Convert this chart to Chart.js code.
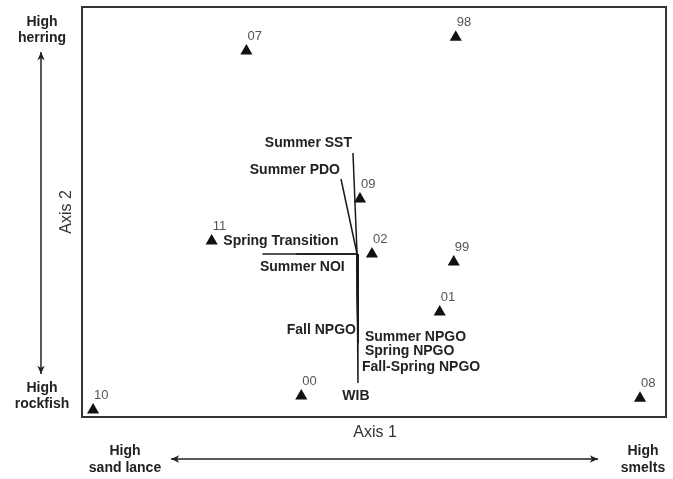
<!DOCTYPE html>
<html>
<head>
<meta charset="utf-8">
<script src="https://cdn.jsdelivr.net/npm/chart.js@4.4.1/dist/chart.umd.min.js"></script>
<style>
  html, body { margin: 0; padding: 0; background: #fff; }
  #wrap { width: 673px; height: 479px; }
</style>
</head>
<body>
<div id="wrap"><canvas id="chartNms"></canvas></div>
<script>
// NMS ordination: year scores
const years = ['07', '98', '09', '11', '02', '99', '01', '10', '00', '08'];
const axis1 = [-0.437, 0.280, -0.048, -0.556, -0.007, 0.273, 0.225, -0.962, -0.249, 0.911];
const axis2 = [0.785, 0.853, 0.063, -0.142, -0.205, -0.244, -0.488, -0.966, -0.898, -0.908];

// environmental vectors (joint plot), all from the same origin
const vecOrigin = [-0.058, -0.205];
const vecNames = ['Summer SST', 'Summer PDO', 'Spring Transition', 'Summer NOI',
    'Fall NPGO', 'Summer NPGO', 'Spring NPGO', 'Fall-Spring NPGO', 'WIB'];
const vecX = [-0.072, -0.113, -0.382, -0.266, -0.055, -0.055, -0.055, -0.055, -0.055];
const vecY = [0.288, 0.161, -0.205, -0.205, -0.639, -0.639, -0.639, -0.639, -0.834];

// label placement for each vector (pixels from the vector tip)
const vecLabelPos = {
    'Summer SST': { dx: -1, dy: -10, align: 'right' },
    'Summer PDO': { dx: -1, dy: -9, align: 'right' },
    'Spring Transition': { dx: 76, dy: -13, align: 'right' },
    'Summer NOI': { dx: 6, dy: 13, align: 'center' },
    'Fall NPGO': { dx: -2, dy: -13, align: 'right' },
    'Summer NPGO': { dx: 7, dy: -6, align: 'left' },
    'Spring NPGO': { dx: 7, dy: 8, align: 'left' },
    'Fall-Spring NPGO': { dx: 4, dy: 24, align: 'left' },
    'WIB': { dx: -2, dy: 13, align: 'center' }
};

const datasets = [];

vecNames.forEach((name, i) => {
    datasets.push({
        label: name,
        data: [{ x: vecOrigin[0], y: vecOrigin[1] }, { x: vecX[i], y: vecY[i] }],
        showLine: true,
        borderColor: '#1a1a1a',
        borderWidth: 1.5,
        pointRadius: 0,
        fill: false
    });
});

datasets.push({
    label: 'Years',
    data: years.map((y, i) => ({ x: axis1[i], y: axis2[i] })),
    pointStyle: 'triangle',
    pointRadius: 7,
    backgroundColor: '#111',
    borderColor: '#111',
    borderWidth: 0
});

const boldFont = 'bold 14px "Liberation Sans", Arial, sans-serif';

// double-headed arrow with small filled heads
const arrow = (ctx, x1, y1, x2, y2) => {
    const a = Math.atan2(y2 - y1, x2 - x1);
    const head = (x, y, ang) => {
        ctx.beginPath();
        ctx.moveTo(x, y);
        ctx.lineTo(x - 9 * Math.cos(ang - 0.42), y - 9 * Math.sin(ang - 0.42));
        ctx.lineTo(x - 6 * Math.cos(ang), y - 6 * Math.sin(ang));
        ctx.lineTo(x - 9 * Math.cos(ang + 0.42), y - 9 * Math.sin(ang + 0.42));
        ctx.closePath();
        ctx.fill();
    };
    ctx.beginPath();
    ctx.moveTo(x1, y1);
    ctx.lineTo(x2, y2);
    ctx.stroke();
    head(x2, y2, a);
    head(x1, y1, a + Math.PI);
};

const ordinationDecor = {
    id: 'ordinationDecor',
    afterDraw(chart) {
        const { ctx, chartArea: ca, scales } = chart;
        const sx = scales.x, sy = scales.y;
        ctx.save();

        // frame
        ctx.strokeStyle = '#333';
        ctx.lineWidth = 2;
        ctx.strokeRect(ca.left, ca.top, ca.right - ca.left, ca.bottom - ca.top);

        // year labels
        ctx.fillStyle = '#555';
        ctx.font = '13px "Liberation Sans Narrow", "Liberation Sans", Arial, sans-serif';
        ctx.textAlign = 'left';
        ctx.textBaseline = 'middle';
        years.forEach((y, i) => {
            ctx.fillText(y, sx.getPixelForValue(axis1[i]) + 1, sy.getPixelForValue(axis2[i]) - 15);
        });

        // vector labels
        ctx.fillStyle = '#222';
        ctx.font = boldFont;
        vecNames.forEach((name, i) => {
            const p = vecLabelPos[name];
            ctx.textAlign = p.align;
            ctx.fillText(name, sx.getPixelForValue(vecX[i]) + p.dx, sy.getPixelForValue(vecY[i]) + p.dy);
        });

        // axis titles
        ctx.fillStyle = '#333';
        ctx.font = '16px "Liberation Sans", Arial, sans-serif';
        ctx.textAlign = 'center';
        ctx.fillText('Axis 1', (ca.left + ca.right) / 2 + 1, ca.bottom + 16);
        ctx.save();
        ctx.translate(ca.left - 15, (ca.top + ca.bottom) / 2);
        ctx.rotate(-Math.PI / 2);
        ctx.fillText('Axis 2', 0, 0);
        ctx.restore();

        // gradient annotations
        ctx.fillStyle = '#222';
        ctx.font = boldFont;
        ctx.fillText('High', 42, 22);
        ctx.fillText('herring', 42, 38);
        ctx.fillText('High', 42, 388);
        ctx.fillText('rockfish', 42, 404);
        ctx.fillText('High', 125, 451);
        ctx.fillText('sand lance', 125, 468);
        ctx.fillText('High', 643, 451);
        ctx.fillText('smelts', 643, 468);

        ctx.strokeStyle = '#222';
        ctx.lineWidth = 1.5;
        arrow(ctx, 41, 52, 41, 374);
        arrow(ctx, 171, 459, 598, 459);

        ctx.restore();
    }
};

const chartNms = new Chart(document.getElementById('chartNms').getContext('2d'), {
    type: 'scatter',
    data: { datasets: datasets },
    options: {
        responsive: true,
        maintainAspectRatio: false,
        animation: false,
        layout: { padding: { left: 82, top: 7, right: 5, bottom: 62 } },
        plugins: {
            legend: { display: false },
            tooltip: { enabled: false }
        },
        scales: {
            x: { type: 'linear', min: -1, max: 1, display: false },
            y: { type: 'linear', min: -1, max: 1, display: false }
        }
    },
    plugins: [ordinationDecor]
});
</script>
</body>
</html>
